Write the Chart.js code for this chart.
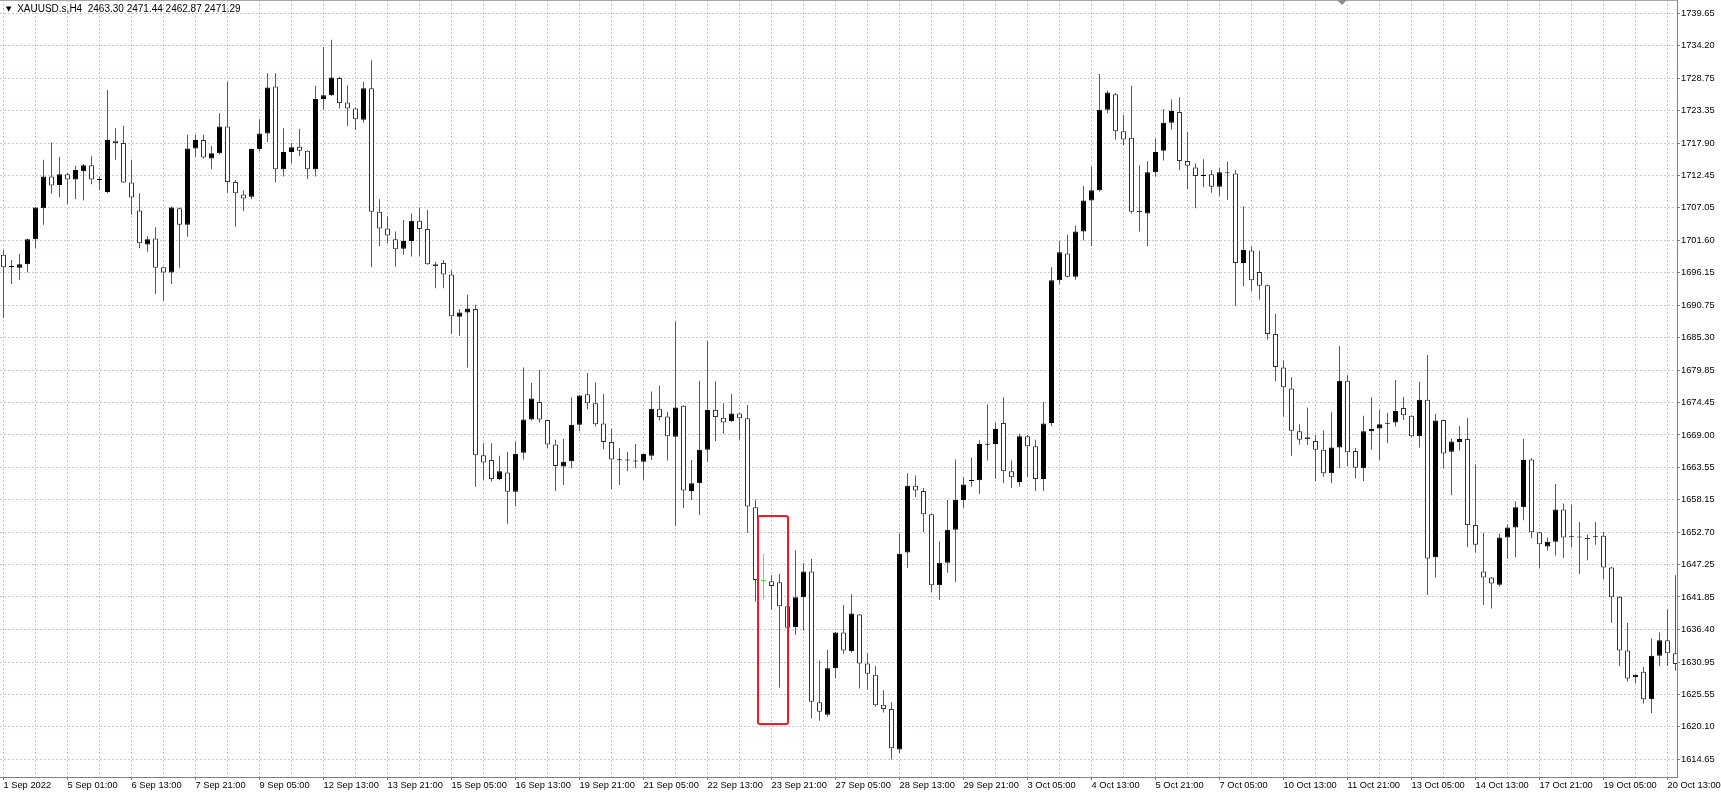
<!DOCTYPE html>
<html>
<head>
<meta charset="utf-8">
<script src="https://cdn.jsdelivr.net/npm/chart.js@4.4.1/dist/chart.umd.min.js"></script>
<style>
  html, body { margin: 0; padding: 0; background: #fff; }
  #wrap { position: relative; width: 1721px; height: 793px; overflow: hidden; }
  #title { position: absolute; left: 6px; top: 3px; font: 10px 'Liberation Sans', Arial, sans-serif; color: #000; white-space: pre; }
  #title .arrow { font: 7px 'DejaVu Sans', sans-serif; position: relative; top: -1px; margin-right: 3px; }
  #shift { position: absolute; left: 1337px; top: 0; width: 0; height: 0;
    border-left: 5px solid transparent; border-right: 5px solid transparent; border-top: 5px solid #8c8c8c; }
</style>
</head>
<body>
<div id="wrap">
  <canvas id="chart" width="1721" height="793"></canvas>
  <div id="title"><span class="arrow">▼</span> XAUUSD.s,H4  2463.30 2471.44 2462.87 2471.29</div>
  <div id="shift"></div>
</div>
<script>
// H4 bars, oldest first
var opens = [
  1699.2, 1697.1, 1697.0, 1697.6, 1701.8, 1707.0, 1712.3, 1710.9, 1712.7, 1711.8,
  1713.2, 1714.2, 1711.7, 1709.7, 1718.3, 1717.9, 1711.3, 1706.6, 1700.9, 1701.9,
  1697.1, 1696.2, 1707.0, 1704.2, 1717.0, 1718.4, 1715.3, 1716.2, 1720.7, 1711.4,
  1709.3, 1708.9, 1716.9, 1719.5, 1727.4, 1713.5, 1716.4, 1717.3, 1716.6, 1713.5,
  1725.3, 1725.9, 1728.8, 1724.7, 1723.7, 1721.8, 1727.1, 1706.4, 1703.6, 1701.8,
  1700.2, 1701.5, 1704.9, 1703.5, 1697.6, 1697.8, 1695.9, 1688.8, 1689.5, 1690.1,
  1665.6, 1664.8, 1661.6, 1662.7, 1659.5, 1666.0, 1671.6, 1674.5, 1671.5, 1667.4,
  1663.7, 1664.6, 1670.7, 1675.8, 1674.3, 1670.9, 1667.8, 1664.8, 1664.7, 1664.6,
  1664.5, 1665.5, 1673.4, 1672.1, 1668.7, 1673.9, 1659.6, 1660.9, 1666.5, 1673.2,
  1671.9, 1671.3, 1672.6, 1671.8, 1656.9, 1644.6, 1644.5, 1644.3, 1640.3, 1636.8,
  1641.8, 1646.1, 1624.2, 1622.1, 1629.9, 1635.9, 1632.8, 1638.9, 1630.7, 1628.8,
  1623.8, 1623.1, 1616.3, 1649.3, 1660.5, 1659.6, 1655.7, 1643.8, 1647.6, 1653.1,
  1658.1, 1661.3, 1661.4, 1667.4, 1667.5, 1671.0, 1662.9, 1661.1, 1668.8, 1667.1,
  1661.6, 1671.0, 1694.9, 1699.4, 1695.5, 1703.1, 1708.3, 1710.0, 1723.5, 1726.1,
  1719.9, 1718.8, 1706.5, 1706.1, 1713.0, 1716.6, 1721.3, 1723.1, 1714.9, 1713.8,
  1712.4, 1712.7, 1710.6, 1713.0, 1712.8, 1697.8, 1699.9, 1696.3, 1694.1, 1685.9,
  1680.3, 1676.8, 1669.6, 1668.6, 1668.0, 1666.5, 1662.6, 1666.9, 1678.1, 1666.3,
  1663.4, 1669.6, 1670.1, 1670.9, 1671.1, 1673.5, 1672.2, 1668.8, 1674.9, 1648.5,
  1671.5, 1666.2, 1667.8, 1668.3, 1653.9, 1646.1, 1645.1, 1643.9, 1651.8, 1653.5,
  1656.9, 1664.9, 1652.7, 1650.3, 1651.1, 1656.5, 1651.9, 1652.0, 1651.7, 1651.9,
  1652.1, 1646.8, 1641.9, 1632.9, 1628.4, 1629.3, 1624.7, 1632.0, 1634.6, 1632.4
];
var highs = [
  1700.0, 1698.3, 1699.3, 1701.9, 1707.2, 1715.1, 1718.0, 1715.6, 1712.9, 1714.1,
  1714.4, 1715.7, 1712.3, 1726.8, 1720.4, 1720.8, 1715.1, 1709.5, 1702.3, 1703.8,
  1697.2, 1707.3, 1707.1, 1719.3, 1719.3, 1719.3, 1717.4, 1722.9, 1728.2, 1711.7,
  1710.0, 1717.0, 1721.9, 1729.6, 1729.6, 1720.4, 1717.9, 1720.3, 1716.7, 1727.5,
  1734.0, 1735.2, 1729.0, 1727.6, 1723.9, 1728.2, 1731.8, 1708.5, 1705.6, 1703.1,
  1705.0, 1706.1, 1707.1, 1706.7, 1698.0, 1698.3, 1696.6, 1690.1, 1692.5, 1690.8,
  1667.6, 1667.6, 1665.5, 1666.2, 1667.9, 1680.3, 1677.7, 1679.9, 1671.6, 1668.2,
  1668.3, 1675.3, 1675.7, 1679.4, 1677.8, 1675.8, 1670.1, 1666.8, 1666.2, 1667.5,
  1665.9, 1676.3, 1677.3, 1672.9, 1688.0, 1674.0, 1664.8, 1678.1, 1684.8, 1678.0,
  1674.3, 1675.8, 1672.7, 1674.0, 1658.2, 1649.1, 1645.5, 1645.7, 1640.4, 1649.7,
  1647.5, 1648.2, 1631.2, 1633.0, 1636.0, 1640.5, 1642.3, 1639.0, 1632.4, 1630.3,
  1626.2, 1624.2, 1652.5, 1662.6, 1662.2, 1660.1, 1655.8, 1651.2, 1658.1, 1664.9,
  1661.9, 1665.2, 1668.1, 1674.1, 1671.1, 1675.3, 1664.7, 1669.2, 1669.0, 1668.2,
  1674.5, 1697.1, 1701.5, 1702.6, 1704.1, 1710.7, 1714.0, 1729.5, 1726.7, 1726.3,
  1722.6, 1727.5, 1714.2, 1714.9, 1718.7, 1723.6, 1725.2, 1725.6, 1719.8, 1714.5,
  1715.2, 1713.4, 1713.8, 1714.8, 1713.4, 1707.3, 1700.6, 1699.9, 1694.2, 1689.3,
  1681.5, 1678.7, 1670.8, 1673.6, 1669.0, 1669.8, 1672.8, 1683.9, 1679.0, 1666.8,
  1672.2, 1675.3, 1673.2, 1672.7, 1678.2, 1675.4, 1672.3, 1677.9, 1682.4, 1672.5,
  1671.6, 1668.4, 1670.5, 1671.8, 1664.0, 1652.6, 1645.2, 1652.5, 1654.0, 1657.9,
  1668.3, 1665.1, 1652.8, 1651.8, 1660.8, 1657.5, 1657.3, 1654.4, 1652.3, 1654.4,
  1652.8, 1646.9, 1642.0, 1637.5, 1628.9, 1630.1, 1634.9, 1635.9, 1639.8, 1645.5
];
var lows = [
  1688.6, 1694.3, 1695.0, 1696.2, 1700.3, 1704.2, 1709.4, 1708.8, 1707.7, 1708.5,
  1708.3, 1711.0, 1710.0, 1709.5, 1715.1, 1711.2, 1705.9, 1700.3, 1699.7, 1692.6,
  1691.5, 1694.3, 1697.0, 1702.2, 1715.6, 1715.3, 1713.5, 1716.0, 1709.6, 1703.9,
  1706.5, 1708.5, 1716.5, 1718.1, 1711.3, 1712.3, 1714.5, 1715.7, 1711.9, 1712.3,
  1723.5, 1725.8, 1723.7, 1720.8, 1720.1, 1721.3, 1697.1, 1700.6, 1701.1, 1697.2,
  1699.2, 1698.9, 1699.0, 1697.5, 1693.6, 1693.6, 1685.9, 1685.6, 1680.3, 1660.3,
  1661.5, 1661.2, 1661.4, 1654.1, 1657.0, 1664.9, 1671.4, 1671.1, 1666.8, 1659.6,
  1660.6, 1663.4, 1669.6, 1673.3, 1670.4, 1666.6, 1659.9, 1660.6, 1662.9, 1663.4,
  1661.5, 1664.8, 1671.4, 1664.7, 1653.8, 1656.7, 1658.1, 1655.6, 1664.5, 1668.0,
  1669.2, 1671.2, 1668.2, 1652.6, 1641.1, 1641.5, 1639.7, 1626.7, 1634.5, 1635.5,
  1636.2, 1621.5, 1621.1, 1621.8, 1628.2, 1632.3, 1632.5, 1626.5, 1626.3, 1623.5,
  1622.5, 1614.6, 1615.7, 1646.7, 1658.6, 1652.7, 1642.7, 1641.4, 1645.9, 1644.4,
  1656.8, 1660.3, 1659.1, 1664.7, 1661.6, 1660.9, 1660.1, 1660.3, 1661.9, 1659.6,
  1659.6, 1670.5, 1694.3, 1695.4, 1695.0, 1701.6, 1700.6, 1709.8, 1722.9, 1718.5,
  1717.6, 1706.1, 1703.1, 1700.6, 1712.3, 1715.0, 1720.2, 1713.4, 1710.2, 1707.0,
  1710.5, 1709.6, 1709.0, 1708.4, 1690.6, 1693.9, 1693.1, 1691.7, 1685.0, 1678.0,
  1672.1, 1665.5, 1667.4, 1667.3, 1661.3, 1662.0, 1660.9, 1663.4, 1663.7, 1661.7,
  1661.3, 1666.5, 1664.8, 1667.6, 1670.4, 1671.5, 1668.6, 1666.9, 1642.2, 1645.1,
  1663.4, 1658.9, 1666.4, 1650.2, 1649.3, 1640.5, 1639.9, 1643.6, 1648.2, 1648.5,
  1654.7, 1651.7, 1646.7, 1649.6, 1648.8, 1648.4, 1650.2, 1645.7, 1648.0, 1650.6,
  1644.8, 1637.5, 1630.3, 1627.7, 1627.4, 1624.0, 1622.4, 1630.3, 1630.3, 1629.5
];
var closes = [
  1697.1, 1697.3, 1697.6, 1701.8, 1707.1, 1712.3, 1710.8, 1712.7, 1711.8, 1713.4,
  1714.2, 1711.8, 1711.9, 1718.4, 1717.9, 1711.3, 1708.8, 1701.1, 1701.8, 1697.0,
  1696.2, 1707.1, 1704.2, 1717.0, 1718.4, 1715.5, 1716.2, 1720.7, 1711.4, 1709.5,
  1708.6, 1716.9, 1719.5, 1727.2, 1713.5, 1716.4, 1717.2, 1716.6, 1713.5, 1725.3,
  1725.9, 1728.9, 1724.6, 1723.7, 1721.9, 1727.1, 1706.4, 1703.6, 1702.4, 1700.1,
  1701.5, 1704.9, 1703.5, 1697.6, 1697.3, 1695.9, 1688.9, 1689.5, 1690.2, 1665.6,
  1664.4, 1661.6, 1662.9, 1659.5, 1665.8, 1671.6, 1675.1, 1671.6, 1667.4, 1663.8,
  1664.5, 1670.7, 1675.6, 1674.3, 1670.8, 1667.8, 1664.9, 1664.9, 1664.9, 1664.7,
  1665.8, 1673.4, 1672.0, 1668.8, 1673.6, 1659.7, 1660.9, 1666.5, 1673.2, 1672.0,
  1671.1, 1672.6, 1671.8, 1657.0, 1644.7, 1644.6, 1643.7, 1640.3, 1636.7, 1641.8,
  1646.1, 1624.3, 1622.6, 1629.9, 1635.9, 1632.9, 1639.1, 1630.7, 1629.0, 1623.7,
  1623.1, 1616.5, 1649.1, 1660.5, 1659.7, 1655.7, 1643.8, 1647.6, 1653.1, 1658.1,
  1660.7, 1661.4, 1667.5, 1667.5, 1670.0, 1662.9, 1661.9, 1668.8, 1667.1, 1661.6,
  1670.9, 1694.9, 1699.6, 1695.5, 1703.1, 1708.3, 1710.0, 1723.5, 1726.4, 1719.9,
  1718.5, 1706.4, 1706.4, 1713.0, 1716.4, 1721.3, 1723.3, 1714.9, 1714.1, 1712.4,
  1712.6, 1710.6, 1713.0, 1712.9, 1697.8, 1700.0, 1694.9, 1694.0, 1685.9, 1680.4,
  1677.0, 1669.7, 1668.2, 1668.3, 1666.5, 1662.6, 1666.9, 1678.1, 1666.1, 1663.5,
  1669.6, 1670.0, 1670.8, 1671.0, 1673.0, 1672.3, 1668.8, 1674.9, 1648.3, 1671.4,
  1665.9, 1667.9, 1668.3, 1653.9, 1650.6, 1645.1, 1644.1, 1651.8, 1653.5, 1656.9,
  1664.8, 1652.7, 1650.7, 1651.1, 1656.5, 1651.8, 1652.0, 1651.8, 1651.6, 1652.0,
  1646.8, 1641.8, 1632.9, 1628.2, 1628.8, 1624.7, 1632.0, 1634.6, 1632.4, 1630.6
];

// time axis: one label every 8 bars, starting at bar 0
var timeLabels = [
  '1 Sep 2022', '5 Sep 01:00', '6 Sep 13:00', '7 Sep 21:00', '9 Sep 05:00',
  '12 Sep 13:00', '13 Sep 21:00', '15 Sep 05:00', '16 Sep 13:00', '19 Sep 21:00',
  '21 Sep 05:00', '22 Sep 13:00', '23 Sep 21:00', '27 Sep 05:00', '28 Sep 13:00',
  '29 Sep 21:00', '3 Oct 05:00', '4 Oct 13:00', '5 Oct 21:00', '7 Oct 05:00',
  '10 Oct 13:00', '11 Oct 21:00', '13 Oct 05:00', '14 Oct 13:00', '17 Oct 21:00',
  '19 Oct 05:00', '20 Oct 13:00'
];
var priceLabels = [
  '1739.65', '1734.20', '1728.75', '1723.35', '1717.90', '1712.45', '1707.05', '1701.60',
  '1696.15', '1690.75', '1685.30', '1679.85', '1674.45', '1669.00', '1663.55', '1658.15',
  '1652.70', '1647.25', '1641.85', '1636.40', '1630.95', '1625.55', '1620.10', '1614.65'
];

// hand-drawn red rectangle (bar index range, price range)
var boxBars = [94.3, 98.1];
var boxPrices = [1655.4, 1620.6];

var labelFont = { family: "'Liberation Sans', Arial, sans-serif", size: 9.3 };
var gridColor = '#c4cad4';
var axisColor = '#808080';

function bodyRange(i) {
  var o = opens[i], c = closes[i];
  if (Math.abs(c - o) < 0.17) {
    var m = (o + c) / 2;
    return [m - 0.085, m + 0.085];
  }
  return [o, c];
}

var bodyData = opens.map(function (o, i) { return { x: i, y: bodyRange(i) }; });
var wickData = opens.map(function (o, i) { return { x: i, y: [lows[i], highs[i]] }; });

var bodyFill = opens.map(function (o, i) {
  if (closes[i] > o) return '#000000';
  if (closes[i] < o) return '#ffffff';
  return '#33ee33';
});
var bodyEdge = opens.map(function (o, i) {
  if (closes[i] > o) return '#000000';
  if (closes[i] < o) return '#333333';
  return '#33ee33';
});
var wickColor = opens.map(function (o, i) {
  return closes[i] === o ? '#55ee55' : '#5a5a5a';
});

var priceTicks = priceLabels.map(function (t) { return Number(t); }).reverse();
var labelByPrice = {};
priceLabels.forEach(function (t) { labelByPrice[Number(t)] = t; });

function noPadding(s) {
  s.paddingTop = 0;
  s.paddingBottom = 0;
  s.paddingLeft = 0;
  s.paddingRight = 0;
}

var extras = {
  id: 'extras',
  beforeDatasetsDraw: function (chart) {
    var ctx = chart.ctx;
    ctx.save();
    ctx.strokeStyle = '#a8a8a8';
    ctx.lineWidth = 1;
    ctx.beginPath();
    ctx.moveTo(0, 0.5);
    ctx.lineTo(chart.chartArea.right, 0.5);
    ctx.stroke();
    ctx.restore();
  },
  afterDatasetsDraw: function (chart) {
    var ctx = chart.ctx, xs = chart.scales.x, ys = chart.scales.y;
    var x0 = Math.round(xs.getPixelForValue(boxBars[0]));
    var x1 = Math.round(xs.getPixelForValue(boxBars[1]));
    var y0 = Math.round(ys.getPixelForValue(boxPrices[0]));
    var y1 = Math.round(ys.getPixelForValue(boxPrices[1]));
    ctx.save();
    ctx.strokeStyle = '#ee1c24';
    ctx.lineWidth = 2;
    ctx.beginPath();
    if (ctx.roundRect) ctx.roundRect(x0, y0, x1 - x0, y1 - y0, 2);
    else ctx.rect(x0, y0, x1 - x0, y1 - y0);
    ctx.stroke();
    ctx.restore();
  }
};

new Chart(document.getElementById('chart'), {
  type: 'bar',
  data: {
    datasets: [
      {
        data: bodyData,
        backgroundColor: bodyFill,
        borderColor: bodyEdge,
        borderWidth: 1,
        borderSkipped: false,
        barThickness: 5,
        inflateAmount: 0,
        grouped: false,
        order: 0
      },
      {
        data: wickData,
        backgroundColor: wickColor,
        borderWidth: 0,
        barThickness: 1,
        inflateAmount: 0,
        grouped: false,
        order: 1
      }
    ]
  },
  options: {
    responsive: false,
    animation: false,
    devicePixelRatio: 1,
    layout: { padding: 0 },
    plugins: { legend: { display: false }, tooltip: { enabled: false } },
    scales: {
      x: {
        type: 'linear',
        offset: false,
        min: -0.4375,
        max: 209.1875,
        afterBuildTicks: function (s) {
          var t = [];
          for (var k = 0; k <= 208; k += 4) t.push({ value: k });
          s.ticks = t;
        },
        afterFit: function (s) { s.height = 16; noPadding(s); },
        ticks: {
          autoSkip: false, maxRotation: 0, minRotation: 0, align: 'start',
          padding: 0, color: '#000', font: labelFont,
          callback: function (v) { return v % 8 === 0 ? timeLabels[v / 8] : ''; }
        },
        grid: {
          offset: false,
          color: gridColor, drawTicks: true, tickLength: 3, tickBorderDash: [],
          tickColor: function (c) { return c.tick && c.tick.value % 8 === 0 ? axisColor : 'rgba(0,0,0,0)'; }
        },
        border: { display: true, color: axisColor, dash: [2, 2] }
      },
      y: {
        type: 'linear',
        position: 'right',
        min: 1611.685,
        max: 1741.879,
        afterBuildTicks: function (s) {
          s.ticks = priceTicks.map(function (v) { return { value: v }; });
        },
        afterFit: function (s) { s.width = 44; noPadding(s); },
        ticks: {
          padding: 1, color: '#000', font: labelFont,
          callback: function (v) { return labelByPrice[v] || ''; }
        },
        grid: { color: gridColor, drawTicks: true, tickLength: 3, tickColor: axisColor, tickBorderDash: [] },
        border: { display: true, color: axisColor, dash: [2, 2] }
      }
    }
  },
  plugins: [extras]
});
</script>
</body>
</html>
